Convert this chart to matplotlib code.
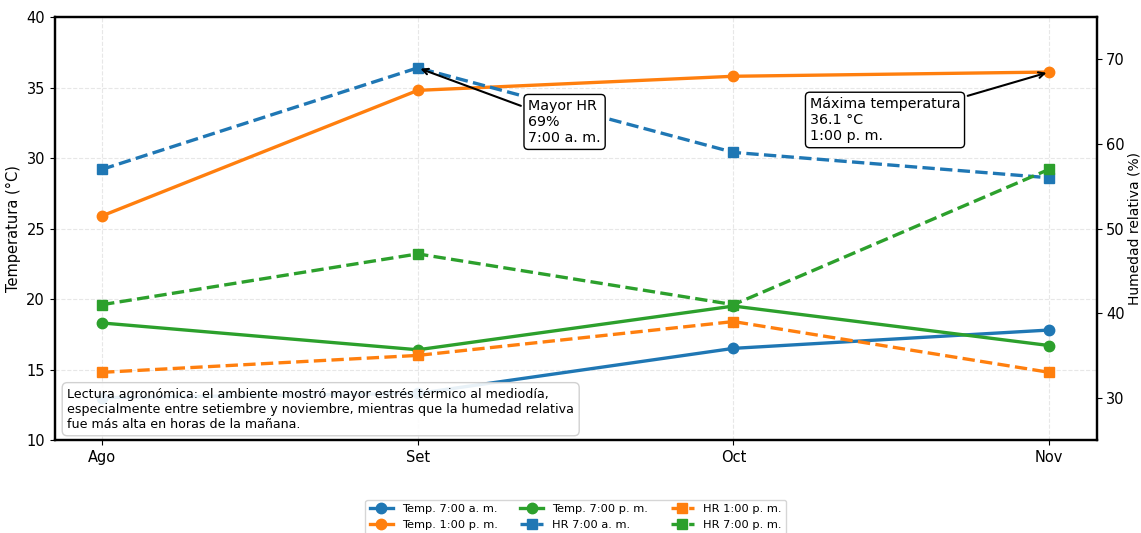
import matplotlib
matplotlib.use("Agg")
import matplotlib.pyplot as plt

# Meses y lecturas
months = ["Ago", "Set", "Oct", "Nov"]
temp_7am = [13.0, 13.3, 16.5, 17.8]
temp_1pm = [25.9, 34.8, 35.8, 36.1]
temp_7pm = [18.3, 16.4, 19.5, 16.7]
hr_7am = [57, 69, 59, 56]
hr_1pm = [33, 35, 39, 33]
hr_7pm = [41, 47, 41, 57]

note = ("Lectura agronómica: el ambiente mostró mayor estrés térmico al mediodía,\n"
        "especialmente entre setiembre y noviembre, mientras que la humedad relativa\n"
        "fue más alta en horas de la mañana.")

fig = plt.figure(figsize=(11.41, 5.33), dpi=100)
ax1 = fig.add_axes([0.048, 0.1745, 0.913, 0.7935])
ax2 = ax1.twinx()

x = list(range(len(months)))
blue, orange, green = "#1f77b4", "#ff7f0e", "#2ca02c"

l1, = ax1.plot(x, temp_7am, "-o", color=blue, lw=2.4, ms=7.5, label="Temp. 7:00 a. m.")
l2, = ax1.plot(x, temp_1pm, "-o", color=orange, lw=2.4, ms=7.5, label="Temp. 1:00 p. m.")
l3, = ax1.plot(x, temp_7pm, "-o", color=green, lw=2.4, ms=7.5, label="Temp. 7:00 p. m.")
l4, = ax2.plot(x, hr_7am, "--s", color=blue, lw=2.4, ms=7, label="HR 7:00 a. m.")
l5, = ax2.plot(x, hr_1pm, "--s", color=orange, lw=2.4, ms=7, label="HR 1:00 p. m.")
l6, = ax2.plot(x, hr_7pm, "--s", color=green, lw=2.4, ms=7, label="HR 7:00 p. m.")

ax1.set_xticks(x)
ax1.set_xticklabels(months, fontsize=10.5)
ax1.set_xlim(-0.15, 3.15)
ax1.set_ylim(10, 40)
ax1.set_yticks([10, 15, 20, 25, 30, 35, 40])
ax2.set_ylim(25, 75)
ax2.set_yticks([30, 40, 50, 60, 70])
ax1.tick_params(labelsize=10.5)
ax2.tick_params(labelsize=10.5)
ax1.set_ylabel("Temperatura (°C)", fontsize=10.5)
ax2.set_ylabel("Humedad relativa (%)", fontsize=10, labelpad=2)
ax1.grid(True, linestyle="--", alpha=0.3)

for ax in (ax1, ax2):
    for s in ax.spines.values():
        s.set_linewidth(1.6)

# Anotaciones
box = dict(boxstyle="round,pad=0.3", fc="white", ec="black", lw=1)
ax2.annotate("Mayor HR\n69%\n7:00 a. m.", xy=(1, max(hr_7am)), xytext=(1.465, 62.6),
             ha="center", va="center", multialignment="left", fontsize=10.3,
             bbox=box, arrowprops=dict(arrowstyle="->", color="black", lw=1.5), zorder=10)
ax1.annotate("Máxima temperatura\n36.1 °C\n1:00 p. m.", xy=(3, max(temp_1pm)), xytext=(2.48, 32.7),
             ha="center", va="center", multialignment="left", fontsize=10.3,
             bbox=box, arrowprops=dict(arrowstyle="->", color="black", lw=1.5), zorder=10)

ax2.text(0.012, 0.022, note, transform=ax2.transAxes, fontsize=9.1, va="bottom", ha="left",
         bbox=dict(boxstyle="round,pad=0.4", fc="white", ec="0.8", alpha=0.9), zorder=10)

handles = [l1, l2, l3, l4, l5, l6]
ax1.legend(handles, [h.get_label() for h in handles], loc="upper center",
           bbox_to_anchor=(0.5, -0.128), ncol=3, fontsize=8.2, frameon=True)

fig.savefig("out.png", dpi=100)
